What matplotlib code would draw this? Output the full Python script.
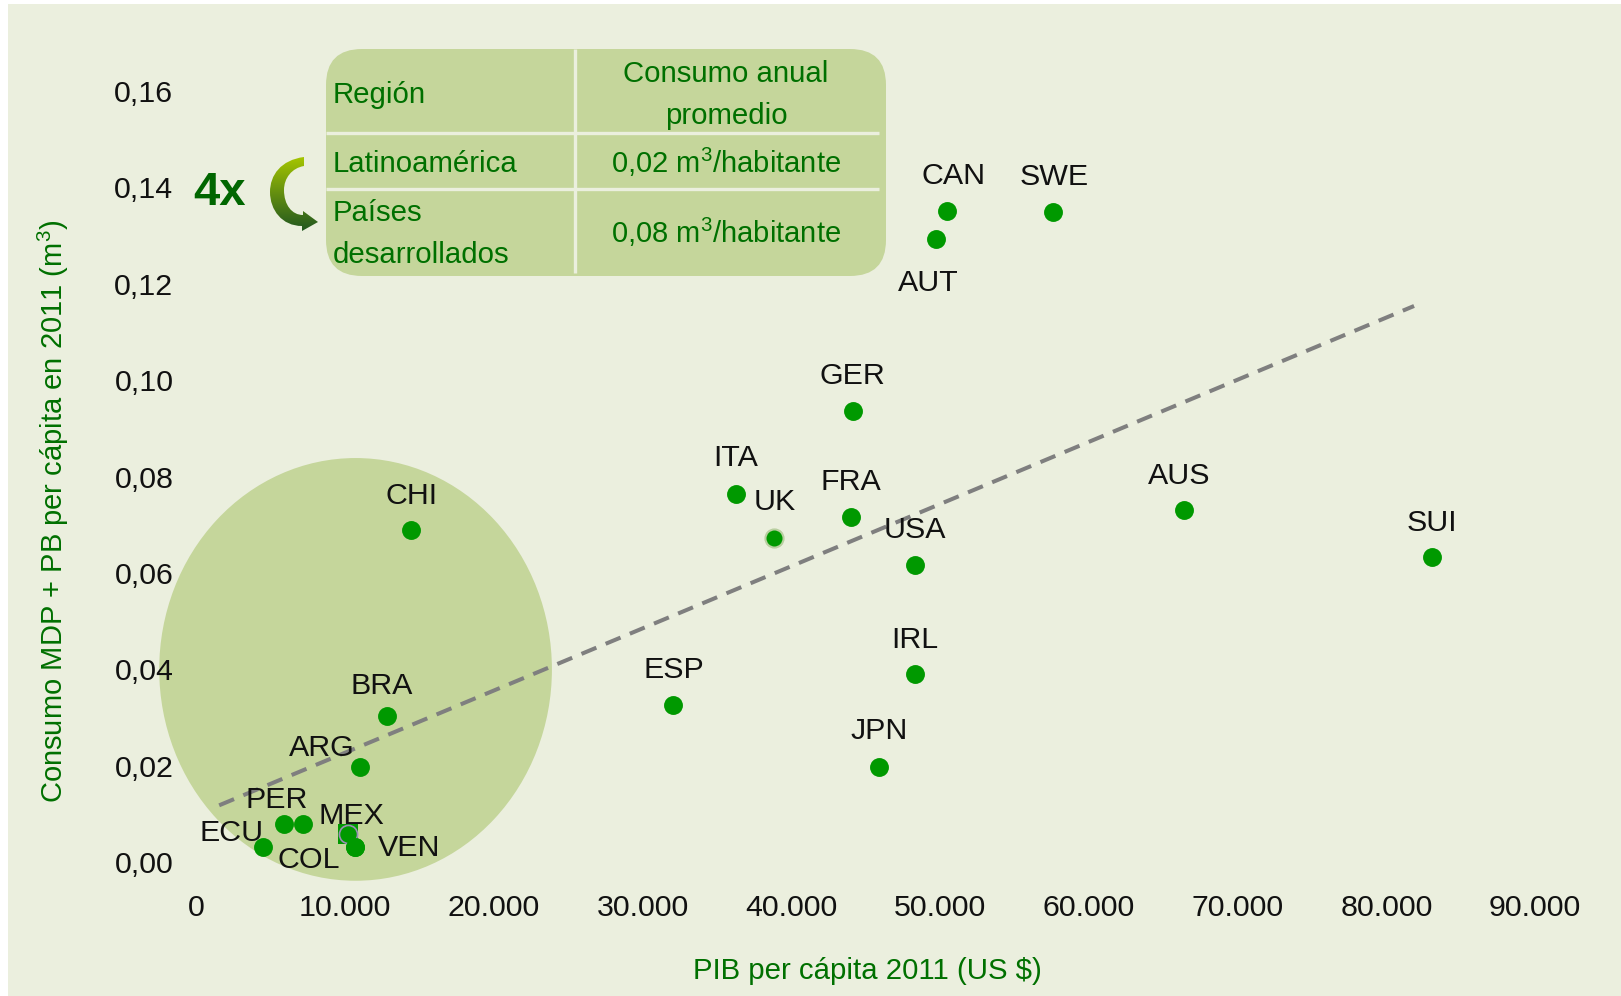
import matplotlib
matplotlib.use("Agg")
import numpy as np
import matplotlib.pyplot as plt
from matplotlib.patches import Ellipse, FancyBboxPatch, PathPatch, Rectangle
from matplotlib.path import Path

plt.rcParams['font.family'] = ['Liberation Sans', 'DejaVu Sans']
plt.rcParams['mathtext.fontset'] = 'custom'
plt.rcParams['mathtext.rm'] = 'Liberation Sans'
plt.rcParams['mathtext.default'] = 'rm'

# data
countries = ["CAN", "SWE", "AUT", "GER", "ITA", "UK", "FRA", "USA", "AUS", "SUI", "IRL",
             "ESP", "JPN", "CHI", "BRA", "ARG", "PER", "COL", "ECU", "MEX", "VEN"]
gdp = [50450, 57610, 49690, 44130, 36270, 38850, 43990, 48300, 66370, 83040, 48300,
       32040, 45870, 14450, 12790, 10980, 5900, 7160, 4450, 10220, 10630]
consumption = [0.1351, 0.1349, 0.1293, 0.0937, 0.0764, 0.0673, 0.0716, 0.0616, 0.0731, 0.0633, 0.0390,
               0.0326, 0.0197, 0.0689, 0.0303, 0.0197, 0.0079, 0.0079, 0.0032, 0.0058, 0.0032]
trend_x = [1530, 81860]
trend_y = [0.0118, 0.1154]
xticks = [0, 10000, 20000, 30000, 40000, 50000, 60000, 70000, 80000, 90000]
xtick_labels = ["0", "10.000", "20.000", "30.000", "40.000", "50.000", "60.000", "70.000", "80.000", "90.000"]
yticks = [0, 0.02, 0.04, 0.06, 0.08, 0.10, 0.12, 0.14, 0.16]
ytick_labels = ["0,00", "0,02", "0,04", "0,06", "0,08", "0,10", "0,12", "0,14", "0,16"]

W, H = 1621, 996
BG = "#EBEFDE"
PALE = "#C5D69B"
DOT = "#009900"
TXT = "#007000"
FS = 21.9
FS_GREEN = 21.2

# label offsets from the point, in pixels (x right, y up)
label_offset = {
    "CAN": (7, 35), "SWE": (1, 35), "AUT": (-7, -44), "GER": (0, 35), "ITA": (0, 36),
    "UK": (0, 36), "FRA": (0, 35), "USA": (0, 35), "AUS": (-4, 34), "SUI": (0, 34),
    "IRL": (0, 34), "ESP": (1, 35), "JPN": (0, 36), "CHI": (0, 34), "BRA": (-5, 30),
    "ARG": (-38, 19), "PER": (-7, 24), "COL": (6, -36), "ECU": (-31, 14), "MEX": (3, 18),
    "VEN": (55, -1),
}

fig = plt.figure(figsize=(W / 100, H / 100), dpi=100, facecolor="white")
fig.add_artist(Rectangle((8 / W, 0), 1 - 8 / W, 1 - 4 / H, transform=fig.transFigure,
                         facecolor=BG, edgecolor="none", zorder=-1))

# y axis: 0 at pixel 862.2, 96.4 px per 0.02; x axis: 0 at 196.4, 148.75 px per 10000
ax = fig.add_axes([196.4 / W, (H - 862.2) / H, 1338.75 / W, 819.4 / H])
ax.patch.set_visible(False)
ax.set_xlim(0, 90000)
ax.set_ylim(0, 0.17)
for s in ax.spines.values():
    s.set_visible(False)
ax.set_xticks(xticks)
ax.set_xticklabels(xtick_labels, fontsize=FS, color="#111111")
ax.set_yticks(yticks)
ax.set_yticklabels(ytick_labels, fontsize=FS, color="#111111")
ax.tick_params(axis="x", length=0, pad=23)
ax.tick_params(axis="y", length=0, pad=16.5)

ax.add_patch(Ellipse((10700, 0.0400), 26400, 0.0877, facecolor=PALE, edgecolor="none",
                     clip_on=False, zorder=1))
ax.plot(trend_x, trend_y, color="#7F7F7F", lw=2.9, dashes=(4, 2.5), dash_capstyle="butt", zorder=2)

mex = countries.index("MEX")
ax.scatter([gdp[mex]], [consumption[mex]], marker="s", s=190, color=DOT, linewidths=0, zorder=3)
ax.scatter(gdp, consumption, s=185, color=DOT, linewidths=0, zorder=4, clip_on=False)
ax.scatter([gdp[mex]], [consumption[mex]], s=170, facecolor=DOT, edgecolor="#9A8FB5", linewidths=1.2, zorder=4)
ax.scatter([gdp[-1]], [consumption[-1]], s=185, color=DOT, linewidths=0, zorder=4)
uk = countries.index("UK")
ax.scatter([gdp[uk]], [consumption[uk]], s=170, facecolor=DOT, edgecolor="#B9CFA0", linewidths=1.5, zorder=4)

for name, px, py in zip(countries, gdp, consumption):
    ax.annotate(name, (px, py), xytext=label_offset[name], textcoords="offset pixels",
                ha="center", va="center", fontsize=FS, color="#111111", zorder=5)

# overlay in pixel coordinates for titles, table and arrow
ov = fig.add_axes([0, 0, 1, 1], zorder=3)
ov.set_xlim(0, W)
ov.set_ylim(H, 0)
ov.axis("off")
ov.patch.set_visible(False)

ov.text(53, 511, "Consumo MDP + PB per cápita en 2011 (m$^{3}$)", rotation=90, ha="center", va="center",
        fontsize=21.0, color=TXT)
ov.text(867, 971, "PIB per cápita 2011 (US $)".replace("$", r"\$"), ha="center", va="center",
        fontsize=FS_GREEN, color=TXT)

ov.add_patch(FancyBboxPatch((326, 49), 560, 227, boxstyle="round,pad=0,rounding_size=36",
                            facecolor=PALE, edgecolor="none"))
ov.plot([575, 575], [49, 273], color=BG, lw=2.4, solid_capstyle="butt")
ov.plot([326, 879], [133, 133], color=BG, lw=2.4, solid_capstyle="butt")
ov.plot([326, 879], [189, 189], color=BG, lw=2.4, solid_capstyle="butt")

for txt, y in [("Región", 95), ("Latinoamérica", 164), ("Países", 213), ("desarrollados", 255)]:
    ov.text(333, y, txt, ha="left", va="center", fontsize=FS_GREEN, color=TXT)
for txt, y in [("Consumo anual", 74), ("promedio", 116)]:
    ov.text(726, y, txt, ha="center", va="center", fontsize=FS_GREEN, color=TXT)
for txt, y in [("0,02 m$^{3}$/habitante", 172.5), ("0,08 m$^{3}$/habitante", 243)]:
    ov.text(726, y, txt, ha="center", va="baseline", fontsize=21.0, color=TXT)

ov.text(219, 193, "4x", ha="center", va="center", fontsize=34, fontweight="bold", color="#006600")

# curved gradient arrow
verts = [(304, 157), (281, 160), (270, 175), (270, 192), (270, 210), (282, 226), (302, 226),
         (302, 231), (318, 222), (303, 211), (303, 215), (292, 215), (284, 205), (284, 190),
         (284, 178), (292, 168), (304, 166), (304, 157)]
codes = [Path.MOVETO] + [Path.CURVE4] * 6 + [Path.LINETO] * 4 + [Path.CURVE4] * 6 + [Path.CLOSEPOLY]
arrow = PathPatch(Path(verts, codes), facecolor="none", edgecolor="none")
ov.add_patch(arrow)
c0 = np.array([0xA8, 0xC8, 0x00]) / 255
c1 = np.array([0x1F, 0x55, 0x20]) / 255
t = np.linspace(0, 1, 80)[:, None, None]
grad = (1 - t) * c0[None, None, :] + t * c1[None, None, :]
im = ov.imshow(grad, extent=(265, 320, 232, 155), aspect="auto", interpolation="bilinear")
im.set_clip_path(arrow)
ov.set_xlim(0, W)
ov.set_ylim(H, 0)

fig.savefig("out.png", dpi=100, facecolor="white")
